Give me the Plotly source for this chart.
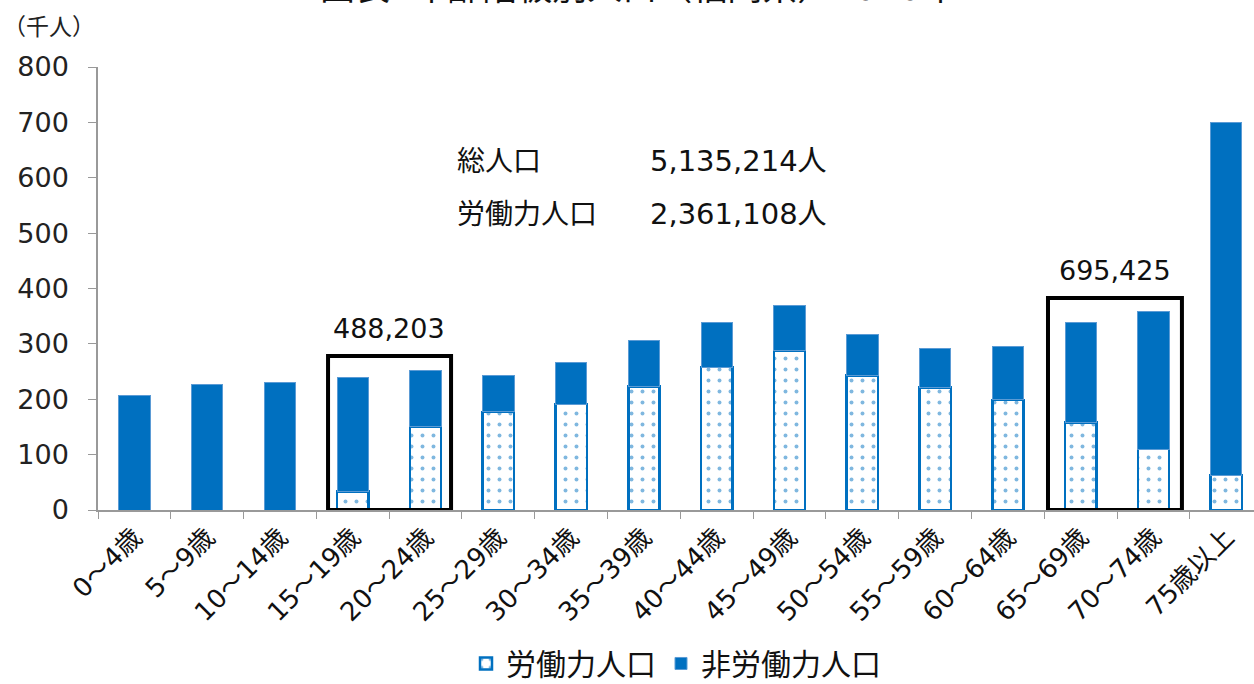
import plotly.graph_objects as go

categories = ["0～4歳", "5～9歳", "10～14歳", "15～19歳", "20～24歳", "25～29歳",
              "30～34歳", "35～39歳", "40～44歳", "45～49歳", "50～54歳", "55～59歳",
              "60～64歳", "65～69歳", "70～74歳", "75歳以上"]
# thousands of people
total_pop = [206, 227, 231, 239, 252, 243, 267, 306, 338, 369, 317, 291, 296, 338, 358, 700]
labor_pop = [0, 0, 0, 33, 151, 177, 191, 223, 258, 288, 243, 221, 199, 158, 110, 63]
non_labor_pop = [t - l for t, l in zip(total_pop, labor_pop)]
y_ticks = [0, 100, 200, 300, 400, 500, 600, 700, 800]

BLUE = "#0070C0"
FONT = "DejaVu Sans, Noto Sans CJK JP"
JFONT = "Noto Sans CJK JP"

fig = go.Figure()
fig.add_trace(go.Bar(
    x=categories, y=labor_pop, name="労働力人口",
    width=0.43,
    marker=dict(color="white",
                line=dict(color=BLUE, width=2.5),
                pattern=dict(shape=".", fgcolor=BLUE, bgcolor="white", size=11, solidity=0.1)),
))
fig.add_trace(go.Bar(
    x=categories, y=non_labor_pop, name="非労働力人口",
    width=0.43,
    marker=dict(color=BLUE, line=dict(color="#5B9BD5", width=1)),
))

fig.update_layout(
    barmode="stack",
    width=1254, height=684,
    margin=dict(l=98, r=0, t=67, b=174),
    paper_bgcolor="white", plot_bgcolor="white",
    font=dict(family=FONT, color="#222222"),
    showlegend=True,
    legend=dict(orientation="h", x=0.5, xanchor="center", yref="container", y=0.03,
                yanchor="middle",
                font=dict(size=30, family=JFONT, color="#111111"), traceorder="normal",
                itemwidth=30),
)
fig.update_xaxes(
    type="category", range=[-0.5, 15.38], automargin=False,
    showline=True, linecolor="#999999", linewidth=1.5,
    ticks="outside", tickson="boundaries", ticklen=7, tickcolor="#999999",
    tickangle=-45, tickfont=dict(size=26, family=FONT, color="#111111"),
    showgrid=False, zeroline=False,
)
fig.update_yaxes(
    range=[0, 800], tickvals=y_ticks, automargin=False,
    showline=True, linecolor="#999999", linewidth=1.5,
    ticks="outside", ticklen=8, tickcolor="#999999",
    tickfont=dict(size=27, family=FONT, color="#222222"),
    ticklabelstandoff=14,
    showgrid=False, zeroline=False,
)

# title (cut at top in the reference)
fig.add_annotation(text="図表  年齢階級別人口（福岡県）2020年", xref="paper", yref="paper",
                   x=0, xshift=638 - 98, y=1.0, yshift=67 + 12, xanchor="center",
                   yanchor="middle", showarrow=False,
                   font=dict(size=35, family=FONT, color="#111111"))
fig.add_annotation(text="（千人）", xref="paper", yref="paper", x=0, xshift=-97,
                   y=1.0, yshift=67 - 25, xanchor="left", yanchor="middle", showarrow=False,
                   font=dict(size=23, family=JFONT, color="#222222"))

# summary text
fig.add_annotation(text="総人口", xref="paper", yref="paper", x=0, xshift=455 - 98,
                   y=1.0, yshift=-(161 - 67), xanchor="left", yanchor="middle",
                   showarrow=False, font=dict(size=28, family=FONT, color="#111111"))
fig.add_annotation(text="5,135,214人", xref="paper", yref="paper", x=0, xshift=648 - 98,
                   y=1.0, yshift=-(161 - 67), xanchor="left", yanchor="middle",
                   showarrow=False, font=dict(size=29, family=FONT, color="#111111"))
fig.add_annotation(text="労働力人口", xref="paper", yref="paper", x=0, xshift=455 - 98,
                   y=1.0, yshift=-(214 - 67), xanchor="left", yanchor="middle",
                   showarrow=False, font=dict(size=28, family=FONT, color="#111111"))
fig.add_annotation(text="2,361,108人", xref="paper", yref="paper", x=0, xshift=648 - 98,
                   y=1.0, yshift=-(214 - 67), xanchor="left", yanchor="middle",
                   showarrow=False, font=dict(size=29, family=FONT, color="#111111"))

# highlight boxes
fig.add_shape(type="rect", xref="x", yref="y", x0=2.66, x1=4.35, y0=0, y1=278,
              line=dict(color="black", width=4), fillcolor="rgba(0,0,0,0)")
fig.add_shape(type="rect", xref="x", yref="y", x0=12.55, x1=14.39, y0=0, y1=383,
              line=dict(color="black", width=4), fillcolor="rgba(0,0,0,0)")
fig.add_annotation(text="488,203", xref="x", yref="y", x=3.5, y=278, yshift=28,
                   showarrow=False, font=dict(size=27, family=FONT, color="#111111"))
fig.add_annotation(text="695,425", xref="x", yref="y", x=13.47, y=383, yshift=27,
                   showarrow=False, font=dict(size=27, family=FONT, color="#111111"))

fig.write_html("out.html", config={"displayModeBar": False},
               post_script="document.body.style.margin='0';document.body.style.overflow='hidden';")
